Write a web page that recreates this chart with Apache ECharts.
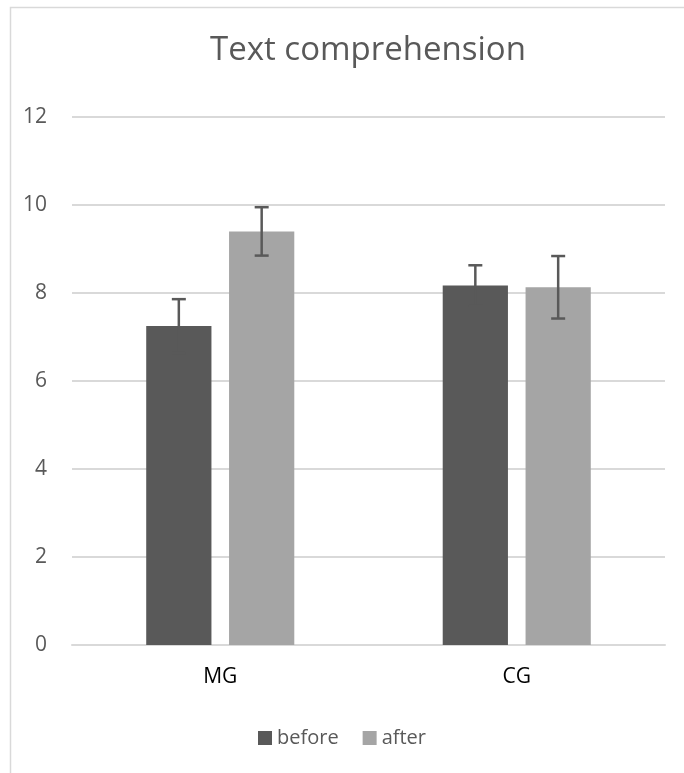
<!DOCTYPE html>
<html><head><meta charset="utf-8">
<script src="https://cdn.jsdelivr.net/npm/echarts@6/dist/echarts.min.js"></script>
<style>html,body{margin:0;padding:0;background:#fff}#c{width:684px;height:773px}</style>
</head><body><div id="c"></div>
<script>
const categories = ['MG', 'CG'];
const seriesNames = ['before', 'after'];
const beforeValues = [7.25, 8.17];
const afterValues = [9.40, 8.13];
const beforeErr = [0.61, 0.46];
const afterErr = [0.55, 0.71];
const yTicks = [0, 2, 4, 6, 8, 10, 12];

const chart = echarts.init(document.getElementById('c'));
const FONT = 'Open Sans';
const TXT = '#595959';
const COLORS = ['#595959', '#a5a5a5'];
const BAR_W = '22%';
const BAR_GAP = '27%';

function errorSeries(idx, values, errs) {
  return {
    type: 'custom',
    name: seriesNames[idx] + '_err',
    z: 10,
    data: values.map((v, i) => [i, v - errs[i], v + errs[i]]),
    renderItem: function (params, api) {
      const ci = api.value(0);
      const lo = api.coord([ci, api.value(1)]);
      const hi = api.coord([ci, api.value(2)]);
      const band = api.size([1, 0])[0];
      const bw = band * 0.22;
      const gap = bw * 0.27;
      const total = bw * 2 + gap;
      const x = lo[0] - total / 2 + bw / 2 + idx * (bw + gap);
      const cap = 7;
      const style = { stroke: TXT, lineWidth: 2.5, fill: null };
      return {
        type: 'group',
        children: [
          { type: 'line', shape: { x1: x, y1: hi[1], x2: x, y2: lo[1] }, style },
          { type: 'line', shape: { x1: x - cap, y1: hi[1], x2: x + cap, y2: hi[1] }, style },
          { type: 'line', shape: { x1: x - cap, y1: lo[1], x2: x + cap, y2: lo[1] }, style }
        ]
      };
    }
  };
}

chart.setOption({
  animation: false,
  backgroundColor: '#fff',
  textStyle: { fontFamily: FONT },
  graphic: [{
    type: 'rect', left: 8, top: 5,
    shape: { width: 675, height: 767 },
    style: { fill: null, stroke: '#d9d9d9', lineWidth: 1.5 }, silent: true, z: -1
  }],
  title: {
    text: 'Text comprehension', left: 363, textAlign: 'center', top: 29,
    textStyle: { fontFamily: FONT, fontSize: 33, fontWeight: 'normal', color: TXT }
  },
  legend: {
    data: seriesNames, bottom: 20, left: 'center',
    icon: 'rect', itemWidth: 14, itemHeight: 14, itemGap: 24,
    textStyle: { fontFamily: FONT, fontSize: 20, color: TXT }
  },
  grid: { left: 72, right: 19, top: 117, bottom: 128 },
  xAxis: {
    type: 'category', data: categories,
    axisLine: { lineStyle: { color: '#d9d9d9', width: 2 } },
    axisTick: { show: false },
    axisLabel: { fontFamily: FONT, fontSize: 21, color: '#000', margin: 22 }
  },
  yAxis: {
    type: 'value', min: yTicks[0], max: yTicks[yTicks.length - 1], interval: 2,
    axisLine: { show: false }, axisTick: { show: false },
    splitLine: { lineStyle: { color: '#d9d9d9', width: 2 } },
    axisLabel: { fontFamily: FONT, fontSize: 21, color: TXT, margin: 25 }
  },
  series: [
    { type: 'bar', name: seriesNames[0], data: beforeValues, barWidth: BAR_W, barGap: BAR_GAP, itemStyle: { color: COLORS[0] } },
    { type: 'bar', name: seriesNames[1], data: afterValues, barWidth: BAR_W, barGap: BAR_GAP, itemStyle: { color: COLORS[1] } },
    errorSeries(0, beforeValues, beforeErr),
    errorSeries(1, afterValues, afterErr)
  ]
});
</script></body></html>
